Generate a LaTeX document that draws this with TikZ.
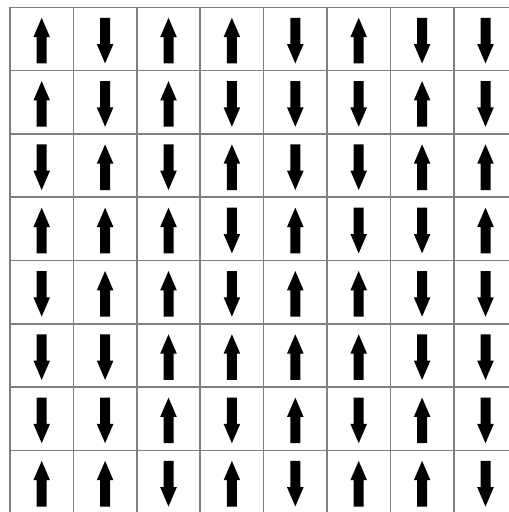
\documentclass[tikz,border=0pt]{standalone}
\begin{document}
\begin{tikzpicture}[x=1pt,y=-1pt,
  gridline/.style={draw=gray, line width=1.6pt},
  spinfill/.style={fill=black},
  spin/.pic={\fill[spinfill] (0,-22.8) -- (8.3,-3.5) -- (5,-3.5) -- (5,22.8) -- (-5,22.8) -- (-5,-3.5) -- (-8.3,-3.5) -- cycle;}]
\useasboundingbox[fill=white] (0,0) rectangle (509,512);
\foreach \i in {0,...,7}{
  \draw[gridline] ({10+63.4*\i},7.3) -- ({10+63.4*\i},512);
  \draw[gridline] (10,{7.3+63.3*\i}) -- (509,{7.3+63.3*\i});
}
\foreach \row [count=\j from 0] in {
  {1,-1,1,1,-1,1,-1,-1},
  {1,-1,1,-1,-1,-1,1,-1},
  {-1,1,-1,1,-1,-1,1,1},
  {1,1,1,-1,1,-1,-1,1},
  {-1,1,1,-1,1,1,-1,-1},
  {-1,-1,1,1,1,1,-1,-1},
  {-1,-1,1,-1,1,-1,1,-1},
  {1,1,-1,1,-1,1,1,-1}}{
  \foreach \s [count=\i from 0] in \row {
    \pic[yscale=\s] at ({41.7+63.4*\i},{40.6+63.3*\j}) {spin};
  }
}
\end{tikzpicture}
\end{document}
